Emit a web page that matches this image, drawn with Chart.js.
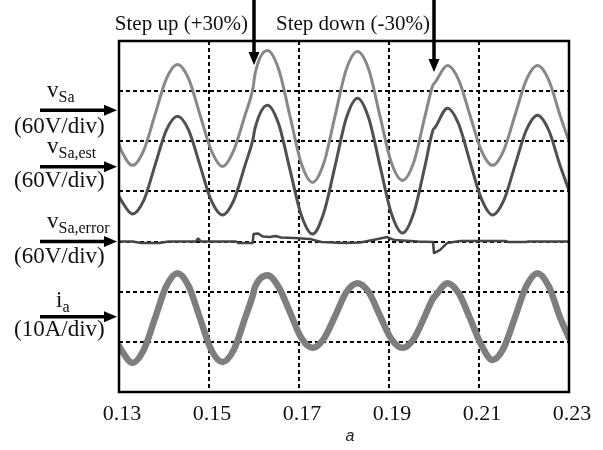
<!DOCTYPE html>
<html>
<head>
<meta charset="utf-8">
<script src="https://cdn.jsdelivr.net/npm/chart.js@4"></script>
<style>
  html, body { margin: 0; padding: 0; background: #fff; }
  #wrap { width: 603px; height: 450px; }
</style>
</head>
<body>
<div id="wrap"><canvas id="c" width="603" height="450"></canvas></div>
<script>
// Scope capture, vertical unit = one screen division (0 = bottom edge, 7 = top edge)
const time = [
  0.1300, 0.1305, 0.1330, 0.1355, 0.1380, 0.1405, 0.1430, 0.1455, 0.1480, 0.1505,
  0.1530, 0.1555, 0.1580, 0.1598, 0.1602, 0.1630, 0.1655, 0.1680, 0.1705, 0.1730,
  0.1755, 0.1780, 0.1805, 0.1830, 0.1855, 0.1880, 0.1905, 0.1930, 0.1955, 0.1980,
  0.1998, 0.2002, 0.2030, 0.2055, 0.2080, 0.2105, 0.2130, 0.2155, 0.2180, 0.2205,
  0.2230, 0.2255, 0.2280, 0.2300
];
const vSa = [
  4.94, 4.82, 4.52, 4.82, 5.53, 6.24, 6.53, 6.24, 5.53, 4.82,
  4.50, 4.82, 5.52, 6.07, 6.33, 6.81, 6.43, 5.50, 4.56, 4.18,
  4.56, 5.50, 6.43, 6.79, 6.43, 5.50, 4.58, 4.22, 4.58, 5.50,
  6.13, 6.17, 6.51, 6.22, 5.52, 4.82, 4.52, 4.82, 5.52, 6.22,
  6.51, 6.22, 5.52, 5.00
];
const vSaEst = [
  3.90, 3.82, 3.55, 3.82, 4.52, 5.22, 5.50, 5.22, 4.52, 3.82,
  3.53, 3.82, 4.52, 5.05, 5.25, 5.72, 5.34, 4.43, 3.53, 3.15,
  3.57, 4.50, 5.46, 5.86, 5.46, 4.51, 3.57, 3.17, 3.57, 4.51,
  5.23, 5.27, 5.66, 5.34, 4.59, 3.86, 3.53, 3.82, 4.52, 5.22,
  5.52, 5.22, 4.52, 4.02
];
const iA = [
  0.92, 0.84, 0.58, 0.84, 1.47, 2.11, 2.37, 2.11, 1.47, 0.84,
  0.60, 0.84, 1.47, 1.95, 2.09, 2.33, 2.09, 1.59, 1.08, 0.88,
  1.06, 1.51, 1.99, 2.17, 1.99, 1.52, 1.06, 0.88, 1.06, 1.52,
  1.87, 1.91, 2.17, 1.97, 1.47, 0.94, 0.64, 0.88, 1.49, 2.11,
  2.37, 2.11, 1.49, 1.08
];
const errTime = [
  0.1300, 0.1330, 0.1350, 0.1390, 0.1410, 0.1470, 0.1476, 0.1482, 0.1560, 0.1565,
  0.1597, 0.1599, 0.1609, 0.1620, 0.1635, 0.1648, 0.1660, 0.1690, 0.1724, 0.1750,
  0.1800, 0.1836, 0.1870, 0.1896, 0.1912, 0.1965, 0.1998, 0.2000, 0.2013, 0.2029,
  0.2058, 0.2160, 0.2165, 0.2205, 0.2210, 0.2300
];
const vSaErr = [
  3.00, 3.00, 2.97, 2.97, 3.00, 3.00, 3.06, 3.00, 3.00, 2.97,
  2.97, 3.15, 3.16, 3.10, 3.09, 3.11, 3.08, 3.07, 3.05, 2.99,
  2.97, 2.98, 3.04, 3.09, 3.03, 3.00, 2.99, 2.77, 2.83, 2.97,
  3.01, 3.01, 2.99, 2.99, 3.00, 3.00
];
const tickValues = [0.13, 0.15, 0.17, 0.19, 0.21, 0.23];
const stepTimes = [0.16, 0.20];
const stepLabels = ['Step up (+30%)', 'Step down (-30%)'];
// zero level of each channel, in divisions
const channelLevels = [5.62, 4.49, 3.0, 1.5];

const pts = (xs, ys) => xs.map((x, i) => ({ x: x, y: ys[i] }));

const SERIF = '"Liberation Serif", "DejaVu Serif", serif';

function arrow(ctx, x1, y1, x2, y2) {
  const ang = Math.atan2(y2 - y1, x2 - x1);
  const head = 13, half = 5.5;
  const bx = x2 - head * Math.cos(ang), by = y2 - head * Math.sin(ang);
  ctx.beginPath();
  ctx.moveTo(x1, y1);
  ctx.lineTo(bx, by);
  ctx.lineWidth = 3.5;
  ctx.strokeStyle = '#000';
  ctx.stroke();
  ctx.beginPath();
  ctx.moveTo(x2, y2);
  ctx.lineTo(bx + half * Math.sin(ang), by - half * Math.cos(ang));
  ctx.lineTo(bx - half * Math.sin(ang), by + half * Math.cos(ang));
  ctx.closePath();
  ctx.fillStyle = '#000';
  ctx.fill();
}

function subText(ctx, main, sub, x, y) {
  ctx.font = '23px ' + SERIF;
  ctx.fillText(main, x, y);
  const w = ctx.measureText(main).width;
  ctx.font = '16px ' + SERIF;
  ctx.fillText(sub, x + w, y + 5);
}

const annotations = {
  id: 'annotations',
  afterDraw(chart) {
    const { ctx, chartArea: a, scales } = chart;
    const xs = scales.x, ys = scales.y;
    ctx.save();

    // plot frame
    ctx.lineWidth = 2.5;
    ctx.strokeStyle = '#000';
    ctx.strokeRect(a.left, a.top, a.right - a.left, a.bottom - a.top);

    // load step markers
    const tips = [65, 72];
    const labelGap = [6, 4];
    ctx.textAlign = 'right';
    ctx.textBaseline = 'alphabetic';
    stepTimes.forEach((t, i) => {
      const x = xs.getPixelForValue(t);
      arrow(ctx, x, 0, x, tips[i]);
      ctx.font = '21px ' + SERIF;
      ctx.fillStyle = '#111';
      ctx.fillText(stepLabels[i], x - labelGap[i], 30);
    });

    // channel reference arrows
    channelLevels.forEach(v => {
      const y = ys.getPixelForValue(v);
      arrow(ctx, 40, y, a.left - 2, y);
    });

    // channel names and scales
    ctx.textAlign = 'left';
    ctx.fillStyle = '#111';
    subText(ctx, 'v', 'Sa', 47, 97);
    ctx.font = '23px ' + SERIF;
    ctx.fillText('(60V/div)', 14, 133);
    subText(ctx, 'v', 'Sa,est', 47, 153);
    ctx.font = '23px ' + SERIF;
    ctx.fillText('(60V/div)', 14, 187);
    subText(ctx, 'v', 'Sa,error', 47, 228);
    ctx.font = '23px ' + SERIF;
    ctx.fillText('(60V/div)', 14, 263);
    subText(ctx, 'i', 'a', 56, 307);
    ctx.font = '23px ' + SERIF;
    ctx.fillText('(10A/div)', 14, 336);

    // panel letter
    ctx.font = 'italic 16px "Liberation Sans", Arial, sans-serif';
    ctx.textAlign = 'center';
    ctx.fillStyle = '#222';
    ctx.fillText('a', 350, 441);
    ctx.restore();
  }
};

new Chart(document.getElementById('c'), {
  type: 'line',
  data: {
    datasets: [
      { label: 'vSa', data: pts(time, vSa), borderColor: '#888888', borderWidth: 3 },
      { label: 'vSa,est', data: pts(time, vSaEst), borderColor: '#505050', borderWidth: 3 },
      { label: 'vSa,error', data: pts(errTime, vSaErr), borderColor: '#454545', borderWidth: 2.5, cubicInterpolationMode: 'default', tension: 0 },
      { label: 'ia', data: pts(time, iA), borderColor: '#7e7e7e', borderWidth: 6.5 }
    ]
  },
  options: {
    responsive: false,
    devicePixelRatio: 1,
    animation: false,
    events: [],
    layout: { padding: { left: 119, right: 34, top: 41, bottom: 0 } },
    elements: {
      point: { radius: 0 },
      line: { cubicInterpolationMode: 'monotone', fill: false, borderCapStyle: 'round', borderJoinStyle: 'round' }
    },
    plugins: { legend: { display: false }, tooltip: { enabled: false } },
    scales: {
      x: {
        type: 'linear',
        min: 0.13,
        max: 0.23,
        afterBuildTicks: s => { s.ticks = tickValues.map(v => ({ value: v })); },
        afterFit: s => { s.height = 58; },
        grid: { color: '#000', lineWidth: 2, drawTicks: false },
        border: { display: false, dash: [4, 3] },
        ticks: {
          padding: 9,
          labelOffset: 3,
          color: '#111',
          font: { family: SERIF, size: 22 },
          maxRotation: 0,
          autoSkip: false,
          callback: v => v.toFixed(2)
        }
      },
      y: {
        type: 'linear',
        min: 0,
        max: 7,
        afterFit: s => { s.width = 0; },
        grid: { color: '#000', lineWidth: 2, drawTicks: false },
        border: { display: false, dash: [4, 3] },
        ticks: { display: false, stepSize: 1 }
      }
    }
  },
  plugins: [annotations]
});
</script>
</body>
</html>
